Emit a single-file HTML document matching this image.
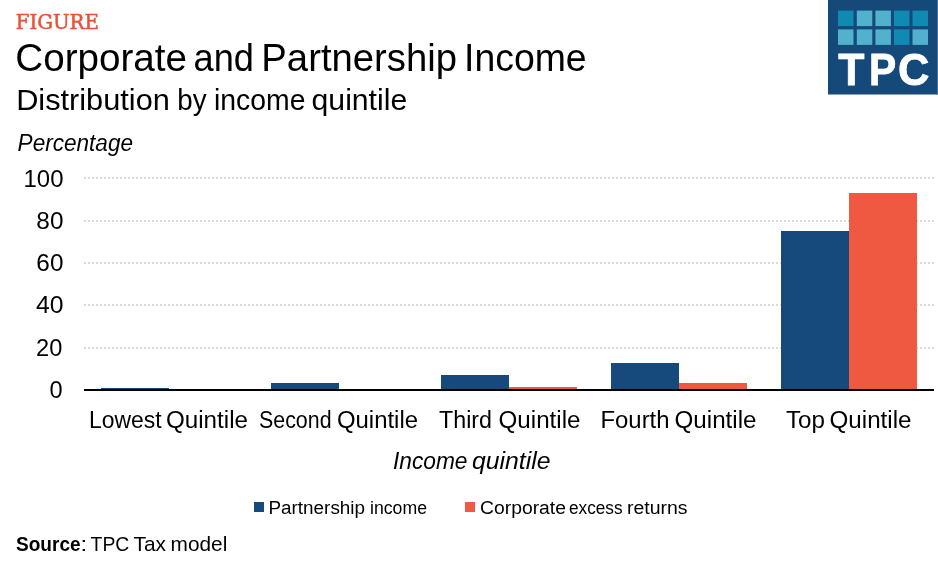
<!DOCTYPE html>
<html><head><meta charset="utf-8"><title>Corporate and Partnership Income</title>
<style>
html,body{margin:0;padding:0;background:#fff;width:938px;height:563px;overflow:hidden}
svg{display:block;will-change:transform}
</style></head>
<body>
<svg width="938" height="563" viewBox="0 0 938 563">
<rect width="938" height="563" fill="#fff"/>
<rect x="828" y="0" width="110" height="94.5" fill="#15497a"/>
<rect x="937" y="0" width="1" height="94.5" fill="#4d7196"/>
<rect x="838" y="10.6" width="15.5" height="15.5" fill="#108ab3"/>
<rect x="856.8" y="10.6" width="15.5" height="15.5" fill="#52b2ce"/>
<rect x="875.4" y="10.6" width="15.5" height="15.5" fill="#52b2ce"/>
<rect x="894" y="10.6" width="15.5" height="15.5" fill="#108ab3"/>
<rect x="912.5" y="10.6" width="15.5" height="15.5" fill="#108ab3"/>
<rect x="838" y="29.4" width="15.5" height="15.5" fill="#52b2ce"/>
<rect x="856.8" y="29.4" width="15.5" height="15.5" fill="#52b2ce"/>
<rect x="875.4" y="29.4" width="15.5" height="15.5" fill="#52b2ce"/>
<rect x="894" y="29.4" width="15.5" height="15.5" fill="#108ab3"/>
<rect x="912.5" y="29.4" width="15.5" height="15.5" fill="#52b2ce"/>
<text x="838.3" y="85.4" font-family='"Liberation Sans",sans-serif' font-weight="bold" font-size="45" fill="#fff" stroke="#fff" stroke-width="0.8" textLength="26.2" lengthAdjust="spacingAndGlyphs">T</text>
<text x="868.9" y="85.4" font-family='"Liberation Sans",sans-serif' font-weight="bold" font-size="45" fill="#fff" stroke="#fff" stroke-width="0.8" textLength="27.2" lengthAdjust="spacingAndGlyphs">P</text>
<text x="897.9" y="85.4" font-family='"Liberation Sans",sans-serif' font-weight="bold" font-size="45" fill="#fff" stroke="#fff" stroke-width="0.8" textLength="31.4" lengthAdjust="spacingAndGlyphs">C</text>
<g stroke="#d9d9d9" stroke-width="2" stroke-dasharray="2 2">
<line x1="84" y1="178" x2="934" y2="178"/>
<line x1="84" y1="221" x2="934" y2="221"/>
<line x1="84" y1="263" x2="934" y2="263"/>
<line x1="84" y1="305" x2="934" y2="305"/>
<line x1="84" y1="348" x2="934" y2="348"/>
</g>
<rect x="101" y="388" width="68" height="2" fill="#174a7c"/>
<rect x="271" y="383" width="68" height="7" fill="#174a7c"/>
<rect x="441" y="375" width="68" height="15" fill="#174a7c"/>
<rect x="611" y="363" width="68" height="27" fill="#174a7c"/>
<rect x="781" y="231" width="68" height="159" fill="#174a7c"/>
<rect x="509" y="387" width="68" height="3" fill="#f05941"/>
<rect x="679" y="383" width="68" height="7" fill="#f05941"/>
<rect x="849" y="193" width="68" height="197" fill="#f05941"/>
<rect x="84" y="389" width="850" height="2" fill="#000"/>
<rect x="254" y="502" width="10" height="10" fill="#174a7c"/>
<rect x="465" y="502" width="10" height="10" fill="#f05941"/>
<text x="15.74" y="29.3" font-family='"DejaVu Serif",serif' font-size="21.3" font-stretch="condensed" fill="#e8523a" stroke="#e8523a" stroke-width="0.5" textLength="83.10" lengthAdjust="spacingAndGlyphs">FIGURE</text>
<text x="15.38" y="71.3" font-family='"Liberation Sans",Arial,sans-serif' font-size="38"  fill="#000" textLength="171.65" lengthAdjust="spacingAndGlyphs">Corporate</text>
<text x="193.53" y="71.3" font-family='"Liberation Sans",Arial,sans-serif' font-size="38"  fill="#000" textLength="60.35" lengthAdjust="spacingAndGlyphs">and</text>
<text x="261.34" y="71.3" font-family='"Liberation Sans",Arial,sans-serif' font-size="38"  fill="#000" textLength="195.70" lengthAdjust="spacingAndGlyphs">Partnership</text>
<text x="464.10" y="71.3" font-family='"Liberation Sans",Arial,sans-serif' font-size="38"  fill="#000" textLength="122.55" lengthAdjust="spacingAndGlyphs">Income</text>
<text x="16.17" y="110" font-family='"Liberation Sans",Arial,sans-serif' font-size="29"  fill="#000" textLength="153.66" lengthAdjust="spacingAndGlyphs">Distribution</text>
<text x="177.35" y="110" font-family='"Liberation Sans",Arial,sans-serif' font-size="29"  fill="#000" textLength="29.31" lengthAdjust="spacingAndGlyphs">by</text>
<text x="213.98" y="110" font-family='"Liberation Sans",Arial,sans-serif' font-size="29"  fill="#000" textLength="91.45" lengthAdjust="spacingAndGlyphs">income</text>
<text x="311.57" y="110" font-family='"Liberation Sans",Arial,sans-serif' font-size="29"  fill="#000" textLength="95.65" lengthAdjust="spacingAndGlyphs">quintile</text>
<text x="17.59" y="150.5" font-family='"Liberation Sans",Arial,sans-serif' font-size="23.3" font-style="italic" fill="#000" textLength="115.41" lengthAdjust="spacingAndGlyphs">Percentage</text>
<text x="23.55" y="187" font-family='"Liberation Sans",Arial,sans-serif' font-size="23.5"  fill="#000" textLength="39.93" lengthAdjust="spacingAndGlyphs">100</text>
<text x="36.38" y="228.7" font-family='"Liberation Sans",Arial,sans-serif' font-size="23.5"  fill="#000" textLength="27.08" lengthAdjust="spacingAndGlyphs">80</text>
<text x="36.38" y="270.9" font-family='"Liberation Sans",Arial,sans-serif' font-size="23.5"  fill="#000" textLength="27.08" lengthAdjust="spacingAndGlyphs">60</text>
<text x="35.92" y="313.4" font-family='"Liberation Sans",Arial,sans-serif' font-size="23.5"  fill="#000" textLength="27.55" lengthAdjust="spacingAndGlyphs">40</text>
<text x="36.01" y="356.2" font-family='"Liberation Sans",Arial,sans-serif' font-size="23.5"  fill="#000" textLength="26.28" lengthAdjust="spacingAndGlyphs">20</text>
<text x="49.40" y="398" font-family='"Liberation Sans",Arial,sans-serif' font-size="23.5"  fill="#000" textLength="13.13" lengthAdjust="spacingAndGlyphs">0</text>
<text x="88.98" y="427.5" font-family='"Liberation Sans",Arial,sans-serif' font-size="23"  fill="#000" textLength="72.53" lengthAdjust="spacingAndGlyphs">Lowest</text>
<text x="165.98" y="427.5" font-family='"Liberation Sans",Arial,sans-serif' font-size="23"  fill="#000" textLength="82.02" lengthAdjust="spacingAndGlyphs">Quintile</text>
<text x="259.00" y="427.5" font-family='"Liberation Sans",Arial,sans-serif' font-size="23"  fill="#000" textLength="72.53" lengthAdjust="spacingAndGlyphs">Second</text>
<text x="337.00" y="427.5" font-family='"Liberation Sans",Arial,sans-serif' font-size="23"  fill="#000" textLength="81.00" lengthAdjust="spacingAndGlyphs">Quintile</text>
<text x="438.97" y="427.5" font-family='"Liberation Sans",Arial,sans-serif' font-size="23"  fill="#000" textLength="53.04" lengthAdjust="spacingAndGlyphs">Third</text>
<text x="498.49" y="427.5" font-family='"Liberation Sans",Arial,sans-serif' font-size="23"  fill="#000" textLength="82.02" lengthAdjust="spacingAndGlyphs">Quintile</text>
<text x="600.48" y="427.5" font-family='"Liberation Sans",Arial,sans-serif' font-size="23"  fill="#000" textLength="69.05" lengthAdjust="spacingAndGlyphs">Fourth</text>
<text x="674.50" y="427.5" font-family='"Liberation Sans",Arial,sans-serif' font-size="23"  fill="#000" textLength="82.01" lengthAdjust="spacingAndGlyphs">Quintile</text>
<text x="785.99" y="427.5" font-family='"Liberation Sans",Arial,sans-serif' font-size="23"  fill="#000" textLength="39.02" lengthAdjust="spacingAndGlyphs">Top</text>
<text x="829.50" y="427.5" font-family='"Liberation Sans",Arial,sans-serif' font-size="23"  fill="#000" textLength="82.01" lengthAdjust="spacingAndGlyphs">Quintile</text>
<text x="392.98" y="468.8" font-family='"Liberation Sans",Arial,sans-serif' font-size="23" font-style="italic" fill="#000" textLength="74.52" lengthAdjust="spacingAndGlyphs">Income</text>
<text x="471.98" y="468.8" font-family='"Liberation Sans",Arial,sans-serif' font-size="23" font-style="italic" fill="#000" textLength="78.55" lengthAdjust="spacingAndGlyphs">quintile</text>
<text x="268.50" y="513.9" font-family='"Liberation Sans",Arial,sans-serif' font-size="18.8"  fill="#000" textLength="96.51" lengthAdjust="spacingAndGlyphs">Partnership</text>
<text x="370.00" y="513.9" font-family='"Liberation Sans",Arial,sans-serif' font-size="18.8"  fill="#000" textLength="57.00" lengthAdjust="spacingAndGlyphs">income</text>
<text x="479.98" y="513.9" font-family='"Liberation Sans",Arial,sans-serif' font-size="18.8"  fill="#000" textLength="86.01" lengthAdjust="spacingAndGlyphs">Corporate</text>
<text x="568.97" y="513.9" font-family='"Liberation Sans",Arial,sans-serif' font-size="18.8"  fill="#000" textLength="53.54" lengthAdjust="spacingAndGlyphs">excess</text>
<text x="626.98" y="513.9" font-family='"Liberation Sans",Arial,sans-serif' font-size="18.8"  fill="#000" textLength="60.55" lengthAdjust="spacingAndGlyphs">returns</text>
<text x="16.01" y="551" font-family='"Liberation Sans",Arial,sans-serif' font-size="20.2" font-weight="bold" fill="#000" textLength="64.58" lengthAdjust="spacingAndGlyphs">Source</text>
<text x="80.57" y="551" font-family='"Liberation Sans",Arial,sans-serif' font-size="20.2"  fill="#000" textLength="6.64" lengthAdjust="spacingAndGlyphs">:</text>
<text x="90.59" y="551" font-family='"Liberation Sans",Arial,sans-serif' font-size="20.2"  fill="#000" textLength="38.71" lengthAdjust="spacingAndGlyphs">TPC</text>
<text x="133.47" y="551" font-family='"Liberation Sans",Arial,sans-serif' font-size="20.2"  fill="#000" textLength="32.45" lengthAdjust="spacingAndGlyphs">Tax</text>
<text x="170.57" y="551" font-family='"Liberation Sans",Arial,sans-serif' font-size="20.2"  fill="#000" textLength="56.76" lengthAdjust="spacingAndGlyphs">model</text>
</svg>
</body></html>
